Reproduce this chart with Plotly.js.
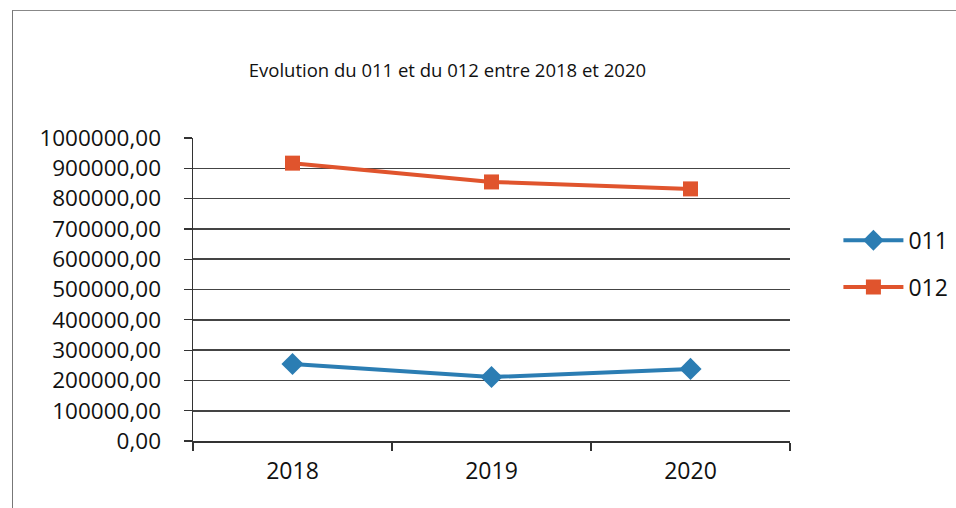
<!DOCTYPE html>
<html>
<head>
<meta charset="utf-8">
<script src="https://cdn.plot.ly/plotly-3.0.1.min.js"></script>
<style>
  html, body { margin: 0; padding: 0; background: #ffffff; }
  #frame {
    position: absolute; left: 0; top: 0; width: 956px; height: 508px; overflow: hidden;
  }
  #edge {
    position: absolute; left: 12px; top: 10px; width: 950px; height: 510px;
    border-left: 1.5px solid #777; border-top: 1.5px solid #888;
    pointer-events: none;
  }
  #chart { position: absolute; left: 0; top: 0; width: 956px; height: 508px; }
</style>
</head>
<body>
<div id="frame">
  <div id="chart"></div>
  <div id="edge"></div>
</div>
<script>
// Budget chapters 011 and 012, yearly totals
const years = ['2018', '2019', '2020'];
const chap011 = [254000, 211000, 238000];
const chap012 = [917000, 855000, 832000];
const seriesNames = ['011', '012'];
const chartTitle = 'Evolution du 011 et du 012 entre 2018 et 2020';

const blue = '#2b7db3';
const orange = '#e0542d';
const font = 'Open Sans, DejaVu Sans, sans-serif';

const traces = [
  {
    x: years, y: chap011, name: seriesNames[0], type: 'scatter', mode: 'lines+markers',
    line: { color: blue, width: 4 },
    marker: { symbol: 'diamond', size: 17, color: blue },
    legend: 'legend'
  },
  {
    x: years, y: chap012, name: seriesNames[1], type: 'scatter', mode: 'lines+markers',
    line: { color: orange, width: 4 },
    marker: { symbol: 'square', size: 15, color: orange },
    legend: 'legend2'
  }
];

const legendBase = {
  font: { family: font, size: 23, color: '#111' },
  bgcolor: 'rgba(0,0,0,0)',
  itemwidth: 60,
  xref: 'container', yref: 'container',
  xanchor: 'left', yanchor: 'middle'
};

const layout = {
  width: 956, height: 508,
  margin: { l: 193, r: 166, t: 138, b: 67, autoexpand: false },
  paper_bgcolor: '#ffffff', plot_bgcolor: '#ffffff',
  separators: ', ',
  font: { family: font, color: '#111' },
  title: {
    text: chartTitle,
    font: { family: font, size: 18.5, color: '#111' },
    x: 0.468, xref: 'container', xanchor: 'center',
    y: 0.862, yref: 'container', yanchor: 'middle'
  },
  xaxis: {
    type: 'category', range: [-0.5, 2.5],
    tickson: 'boundaries', ticks: 'outside', ticklen: 8, tickcolor: '#333', tickwidth: 1.2,
    showline: true, linecolor: '#333', linewidth: 1.5,
    showgrid: false,
    ticklabelstandoff: 9,
    tickfont: { family: font, size: 23, color: '#111' }
  },
  yaxis: {
    range: [0, 1000000], dtick: 100000, tick0: 0, tickformat: '.2f',
    ticks: 'outside', ticklen: 8, tickcolor: '#333', tickwidth: 1.2,
    showline: true, linecolor: '#333', linewidth: 1.5,
    showgrid: true, gridcolor: '#444', gridwidth: 1.6,
    zeroline: false,
    ticklabelstandoff: 18,
    tickfont: { family: font, size: 22.5, color: '#111' }
  },
  legend: Object.assign({}, legendBase, { x: 0.877, y: 0.527 }),
  legend2: Object.assign({}, legendBase, { x: 0.877, y: 0.435 }),
  showlegend: true
};

Plotly.newPlot('chart', traces, layout, { displayModeBar: false, staticPlot: true });
</script>
</body>
</html>
